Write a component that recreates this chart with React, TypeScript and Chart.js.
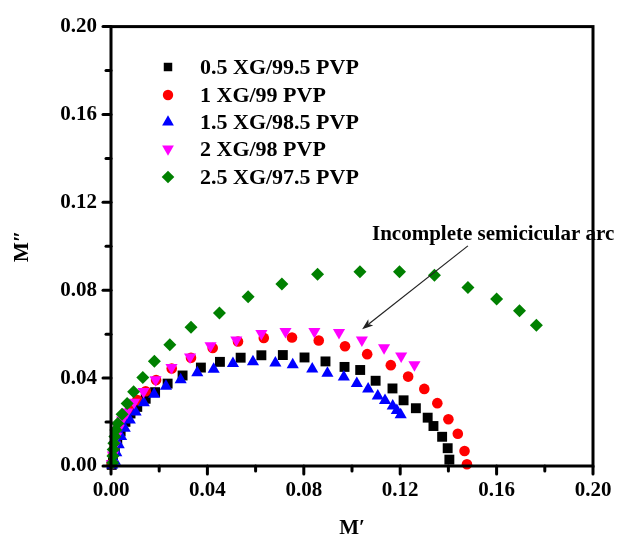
import React, { useEffect, useRef } from 'react';
import { Chart, registerables } from 'chart.js';
import { drawPoint } from 'chart.js/helpers';

Chart.register(...registerables);

// ---- axis ----
const axisMin = 0;
const axisMax = 0.2;
const tickStep = 0.02;
const labelStep = 0.04;
const xTitle = 'M\u2032';
const yTitle = 'M\u2033';

// ---- series ----
const seriesLabels = ['0.5 XG/99.5 PVP', '1 XG/99 PVP', '1.5 XG/98.5 PVP', '2 XG/98 PVP', '2.5 XG/97.5 PVP'];

const xg05X = [0.0003, 0.0008, 0.0016, 0.0026, 0.0040, 0.0060, 0.0081, 0.0109, 0.0144, 0.0183, 0.0235, 0.0297, 0.0373, 0.0452, 0.0538, 0.0624, 0.0713, 0.0803, 0.0890, 0.0969, 0.1034, 0.1098, 0.1168, 0.1214, 0.1265, 0.1314, 0.1338, 0.1374, 0.1397, 0.1404];
const xg05Y = [0.0005, 0.0035, 0.0075, 0.0115, 0.0157, 0.0201, 0.0239, 0.0269, 0.0306, 0.0336, 0.0375, 0.0412, 0.0448, 0.0474, 0.0493, 0.0504, 0.0505, 0.0494, 0.0476, 0.0451, 0.0437, 0.0388, 0.0353, 0.0299, 0.0263, 0.0220, 0.0182, 0.0133, 0.0081, 0.0029];

const xg1X = [0.0003, 0.0008, 0.0016, 0.0026, 0.0040, 0.0058, 0.0081, 0.0109, 0.0144, 0.0187, 0.0252, 0.0332, 0.0422, 0.0527, 0.0634, 0.0751, 0.0862, 0.0971, 0.1063, 0.1161, 0.1233, 0.1300, 0.1354, 0.1400, 0.1439, 0.1467, 0.1477];
const xg1Y = [0.0010, 0.0050, 0.0090, 0.0135, 0.0180, 0.0222, 0.0262, 0.0300, 0.0340, 0.0391, 0.0444, 0.0493, 0.0537, 0.0567, 0.0583, 0.0585, 0.0571, 0.0545, 0.0509, 0.0459, 0.0407, 0.0351, 0.0286, 0.0213, 0.0147, 0.0068, 0.0008];

const xg15X = [0.0005, 0.0016, 0.0022, 0.0032, 0.0042, 0.0057, 0.0078, 0.0102, 0.0136, 0.0179, 0.0228, 0.0289, 0.0358, 0.0426, 0.0506, 0.0589, 0.0682, 0.0754, 0.0835, 0.0898, 0.0966, 0.1020, 0.1067, 0.1107, 0.1137, 0.1169, 0.1186, 0.1202];
const xg15Y = [0.0005, 0.0022, 0.0060, 0.0097, 0.0134, 0.0172, 0.0209, 0.0246, 0.0288, 0.0327, 0.0363, 0.0393, 0.0424, 0.0440, 0.0466, 0.0474, 0.0469, 0.0461, 0.0441, 0.0422, 0.0405, 0.0376, 0.0351, 0.0319, 0.0298, 0.0273, 0.0253, 0.0233];

const xg2X = [0.0003, 0.0008, 0.0015, 0.0022, 0.0032, 0.0046, 0.0067, 0.0096, 0.0135, 0.0185, 0.0251, 0.0328, 0.0413, 0.0520, 0.0624, 0.0724, 0.0844, 0.0946, 0.1041, 0.1133, 0.1204, 0.1259];
const xg2Y = [0.0010, 0.0050, 0.0095, 0.0135, 0.0172, 0.0209, 0.0246, 0.0290, 0.0339, 0.0393, 0.0448, 0.0496, 0.0547, 0.0574, 0.0603, 0.0612, 0.0612, 0.0608, 0.0574, 0.0538, 0.0501, 0.0461];

const xg25X = [0.0007, 0.0008, 0.0009, 0.0012, 0.0016, 0.0020, 0.0028, 0.0046, 0.0067, 0.0094, 0.0132, 0.0180, 0.0244, 0.0332, 0.0450, 0.0569, 0.0709, 0.0857, 0.1033, 0.1197, 0.1342, 0.1481, 0.1600, 0.1695, 0.1765];
const xg25Y = [0.0015, 0.0045, 0.0075, 0.0104, 0.0134, 0.0164, 0.0194, 0.0236, 0.0284, 0.0338, 0.0403, 0.0477, 0.0552, 0.0632, 0.0696, 0.0770, 0.0828, 0.0873, 0.0884, 0.0884, 0.0868, 0.0812, 0.0760, 0.0707, 0.0641];

// ---- annotation (data units) ----
const noteText = 'Incomplete semicicular arc';
const noteAnchor = [0.1083, 0.1052];
const arrowTail = [0.1481, 0.1002];
const arrowTip = [0.1042, 0.0623];

const FONT = "'Liberation Serif', 'Times New Roman', serif";

const toPoints = (xs: number[], ys: number[]) => xs.map((x, i) => ({ x, y: ys[i] }));

const isMajor = (v: number) => Math.abs(v / labelStep - Math.round(v / labelStep)) < 1e-6;

const framePlugin = {
  id: 'frameTicksLegendNote',
  afterDraw(chart: any) {
    const { ctx, chartArea, scales } = chart;
    const xs = scales.x;
    const ys = scales.y;
    ctx.save();
    // frame
    ctx.strokeStyle = '#000';
    ctx.lineWidth = 3;
    ctx.lineJoin = 'miter';
    ctx.strokeRect(chartArea.left, chartArea.top, chartArea.right - chartArea.left, chartArea.bottom - chartArea.top);
    // ticks
    ctx.lineCap = 'round';
    const n = Math.round((axisMax - axisMin) / tickStep);
    for (let i = 0; i <= n; i++) {
      const v = axisMin + i * tickStep;
      const len = isMajor(v) ? 8 : 5;
      const px = xs.getPixelForValue(v);
      ctx.beginPath();
      ctx.moveTo(px, chartArea.bottom);
      ctx.lineTo(px, chartArea.bottom + len);
      ctx.stroke();
      const py = ys.getPixelForValue(v);
      ctx.beginPath();
      ctx.moveTo(chartArea.left, py);
      ctx.lineTo(chartArea.left - len, py);
      ctx.stroke();
    }
    // legend
    const rows = [67, 95, 122, 149, 177];
    const legendSizes = [6, 5.2, 6.8, 6.8, 6.3];
    chart.data.datasets.forEach((ds: any, i: number) => {
      ctx.fillStyle = ds.pointBackgroundColor;
      ctx.strokeStyle = ds.pointBackgroundColor;
      drawPoint(ctx, { pointStyle: ds.pointStyle, radius: legendSizes[i], rotation: ds.pointRotation || 0, borderWidth: 0 }, 168, rows[i]);
      ctx.fillStyle = '#000';
      ctx.font = `bold 22px ${FONT}`;
      ctx.textBaseline = 'middle';
      ctx.textAlign = 'left';
      ctx.fillText(ds.label, 200, rows[i] + 1);
    });
    // annotation
    ctx.fillStyle = '#000';
    ctx.font = `bold 21px ${FONT}`;
    ctx.textBaseline = 'middle';
    ctx.fillText(noteText, xs.getPixelForValue(noteAnchor[0]), ys.getPixelForValue(noteAnchor[1]));
    const tx = xs.getPixelForValue(arrowTail[0]);
    const ty = ys.getPixelForValue(arrowTail[1]);
    const hx = xs.getPixelForValue(arrowTip[0]);
    const hy = ys.getPixelForValue(arrowTip[1]);
    const ang = Math.atan2(hy - ty, hx - tx);
    const headLen = 11;
    const headW = 4;
    ctx.strokeStyle = '#222';
    ctx.lineWidth = 1.2;
    ctx.lineCap = 'butt';
    ctx.beginPath();
    ctx.moveTo(tx, ty);
    ctx.lineTo(hx - Math.cos(ang) * headLen * 0.8, hy - Math.sin(ang) * headLen * 0.8);
    ctx.stroke();
    ctx.fillStyle = '#222';
    ctx.beginPath();
    ctx.moveTo(hx, hy);
    ctx.lineTo(hx - Math.cos(ang) * headLen - Math.sin(ang) * headW, hy - Math.sin(ang) * headLen + Math.cos(ang) * headW);
    ctx.lineTo(hx - Math.cos(ang) * headLen * 0.75, hy - Math.sin(ang) * headLen * 0.75);
    ctx.lineTo(hx - Math.cos(ang) * headLen + Math.sin(ang) * headW, hy - Math.sin(ang) * headLen - Math.cos(ang) * headW);
    ctx.closePath();
    ctx.fill();
    ctx.restore();
  },
};

export default function App() {
  const ref = useRef<HTMLCanvasElement | null>(null);
  useEffect(() => {
    document.body.style.margin = '0';
    const canvas = ref.current;
    if (!canvas) return;
    const mk = (label: string, xs: number[], ys: number[], color: string, style: string, radius: number, order: number, rotation = 0) => ({
      label,
      data: toPoints(xs, ys),
      showLine: false,
      pointStyle: style,
      pointRadius: radius,
      pointRotation: rotation,
      pointBackgroundColor: color,
      pointBorderColor: color,
      pointBorderWidth: 0,
      backgroundColor: color,
      borderColor: color,
      order,
      clip: false,
    });
    const tickFont = { family: FONT, size: 21, weight: 'bold' as const };
    const chart = new Chart(canvas, {
      type: 'scatter',
      data: {
        datasets: [
          mk(seriesLabels[0], xg05X, xg05Y, '#000000', 'rect', 7, 5),
          mk(seriesLabels[1], xg1X, xg1Y, '#ff0000', 'circle', 5.3, 4),
          mk(seriesLabels[2], xg15X, xg15Y, '#0000ff', 'triangle', 7, 3),
          mk(seriesLabels[3], xg2X, xg2Y, '#ff00ff', 'triangle', 7, 2, 180),
          mk(seriesLabels[4], xg25X, xg25Y, '#008000', 'rectRot', 6.5, 1),
        ] as any,
      },
      options: {
        responsive: false,
        animation: false,
        devicePixelRatio: 1,
        events: [],
        layout: { padding: { top: 23, right: 40, left: 0, bottom: 0 } },
        plugins: { legend: { display: false }, tooltip: { enabled: false } },
        scales: {
          x: {
            type: 'linear',
            min: axisMin,
            max: axisMax,
            grid: { display: false, drawTicks: false },
            border: { display: false },
            ticks: {
              stepSize: tickStep,
              autoSkip: false,
              maxRotation: 0,
              padding: 12,
              color: '#000',
              font: tickFont,
              callback: (v: any) => (isMajor(Number(v)) ? Number(v).toFixed(2) : ''),
            },
            title: { display: true, text: xTitle, color: '#000', font: tickFont, padding: { top: 0, bottom: 0 } },
            afterFit: (s: any) => { s.height = 75; },
          },
          y: {
            type: 'linear',
            min: axisMin,
            max: axisMax,
            grid: { display: false, drawTicks: false },
            border: { display: false },
            ticks: {
              stepSize: tickStep,
              autoSkip: false,
              padding: 14,
              color: '#000',
              font: tickFont,
              callback: (v: any) => (isMajor(Number(v)) ? Number(v).toFixed(2) : ''),
            },
            title: { display: true, text: yTitle, color: '#000', font: tickFont, padding: { top: 10, bottom: 0 } },
            afterFit: (s: any) => { s.width = 111; },
          },
        },
      } as any,
      plugins: [framePlugin],
    });
    return () => chart.destroy();
  }, []);
  return (
    <div style={{ width: 633, height: 541, background: '#fff' }}>
      <canvas ref={ref} width={633} height={541} style={{ display: 'block' }} />
    </div>
  );
}
